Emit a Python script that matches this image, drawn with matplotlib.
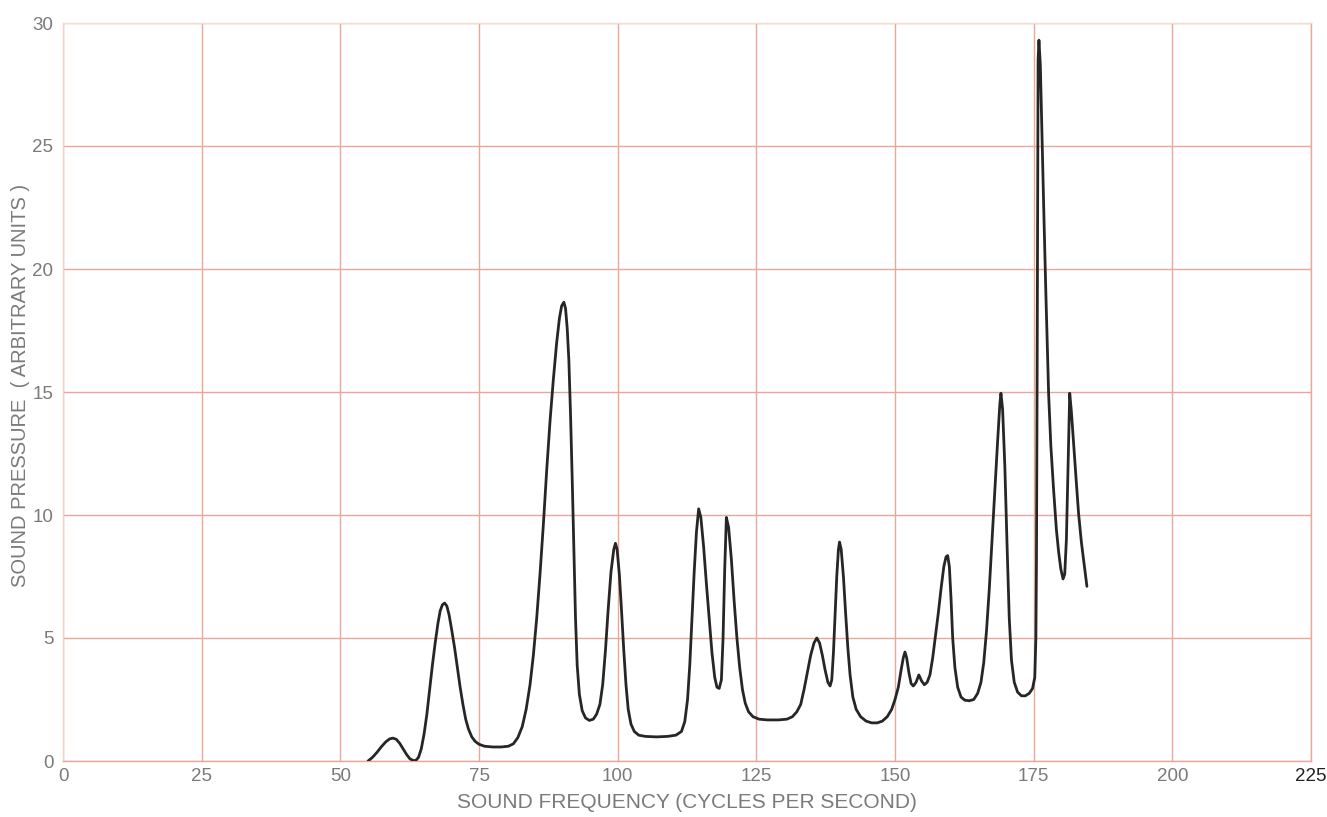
import matplotlib
matplotlib.use("Agg")
import matplotlib.pyplot as plt

# Measured sound-pressure spectrum (arbitrary units) against frequency (Hz)
freq = [
    55.0, 55.8, 56.6, 57.4, 58.2, 58.9, 59.5, 60.1, 60.7, 61.3, 61.9, 62.5,
    63.1, 63.6, 64.1, 64.6, 65.1, 65.6, 66.1, 66.6, 67.1, 67.6, 68.0, 68.4,
    68.8, 69.2, 69.6, 70.1, 70.6, 71.1, 71.6, 72.1, 72.6, 73.1, 73.7, 74.3,
    75.0, 76.0, 77.5, 79.0, 80.3, 81.2, 82.0, 82.8, 83.5, 84.2, 84.8, 85.4,
    86.0, 86.6, 87.2, 87.8, 88.4, 89.0, 89.5, 89.9, 90.3, 90.6, 90.9, 91.2,
    91.5, 91.8, 92.1, 92.4, 92.7, 93.1, 93.6, 94.2, 94.9, 95.6, 96.2, 96.8,
    97.3, 97.8, 98.3, 98.8, 99.3, 99.6, 99.9, 100.3, 100.7, 101.1, 101.5,
    101.9, 102.4, 103.0, 103.8, 105.0, 107.0, 109.0, 110.5, 111.5, 112.1,
    112.6, 113.0, 113.4, 113.8, 114.2, 114.6, 115.0, 115.5, 116.0, 116.5,
    117.0, 117.5, 117.9, 118.3, 118.7, 119.0, 119.3, 119.6, 120.0, 120.5,
    121.0, 121.5, 122.0, 122.5, 123.0, 123.6, 124.4, 125.5, 127.0, 129.0,
    130.5, 131.5, 132.3, 133.0, 133.6, 134.2, 134.8, 135.4, 135.9, 136.4,
    136.9, 137.4, 137.9, 138.3, 138.6, 138.9, 139.2, 139.5, 139.8, 140.0,
    140.3, 140.7, 141.1, 141.5, 141.9, 142.4, 143.0, 143.8, 144.8, 145.8,
    146.8, 147.7, 148.6, 149.4, 150.0, 150.6, 151.1, 151.5, 151.8, 152.1,
    152.5, 152.9, 153.3, 153.8, 154.3, 154.8, 155.3, 155.8, 156.3, 156.8,
    157.3, 157.8, 158.3, 158.8, 159.2, 159.5, 159.8, 160.1, 160.4, 160.8,
    161.3, 161.9, 162.6, 163.4, 164.2, 164.9, 165.5, 166.0, 166.5, 167.0,
    167.5, 168.0, 168.5, 168.9, 169.1, 169.4, 169.8, 170.2, 170.6, 171.0,
    171.5, 172.1, 172.8, 173.5, 174.2, 174.8, 175.2, 175.4, 175.5, 175.6,
    175.7, 175.8, 175.95, 176.2, 176.8, 177.2, 177.7, 178.1, 178.6, 179.1,
    179.5, 179.9, 180.3, 180.6, 180.9, 181.2, 181.5, 181.8, 182.2, 182.7,
    183.1, 183.6, 184.1, 184.6,
]
pressure = [
    0.0, 0.15, 0.35, 0.58, 0.78, 0.9, 0.93, 0.88, 0.72, 0.5, 0.28, 0.1,
    0.02, 0.02, 0.15, 0.5, 1.1, 1.9, 2.9, 3.9, 4.8, 5.6, 6.1, 6.35,
    6.42, 6.3, 5.95, 5.3, 4.6, 3.8, 3.0, 2.3, 1.7, 1.3, 0.98, 0.8,
    0.68, 0.6, 0.57, 0.57, 0.6, 0.7, 0.95, 1.4, 2.1, 3.1, 4.3, 5.8,
    7.6, 9.6, 11.8, 13.8, 15.5, 17.0, 18.0, 18.5, 18.65, 18.4, 17.6, 16.3,
    14.1, 11.5, 8.6, 5.8, 3.9, 2.7, 2.05, 1.75, 1.65, 1.7, 1.9, 2.3,
    3.1, 4.5, 6.2, 7.7, 8.6, 8.85, 8.6, 7.6, 6.1, 4.5, 3.1,
    2.1, 1.5, 1.2, 1.05, 1.0, 0.98, 1.0, 1.05, 1.2, 1.6,
    2.5, 3.9, 5.8, 7.7, 9.3, 10.25, 9.9, 8.7, 7.2, 5.8,
    4.4, 3.4, 3.0, 2.95, 3.3, 5.0, 7.8, 9.9, 9.5, 8.2,
    6.5, 5.0, 3.8, 2.9, 2.35, 2.0, 1.8, 1.7, 1.67, 1.67,
    1.7, 1.8, 2.0, 2.3, 2.9, 3.6, 4.3, 4.8, 5.0, 4.8,
    4.3, 3.7, 3.2, 3.05, 3.3, 4.4, 6.0, 7.5, 8.6, 8.9,
    8.6, 7.5, 6.0, 4.6, 3.5, 2.6, 2.1, 1.8, 1.62, 1.55,
    1.55, 1.62, 1.8, 2.1, 2.5, 3.0, 3.7, 4.2, 4.43, 4.2,
    3.6, 3.15, 3.05, 3.2, 3.5, 3.25, 3.1, 3.2, 3.5, 4.2,
    5.1, 6.0, 7.0, 7.9, 8.3, 8.35, 7.9, 6.6, 5.0, 3.8,
    3.0, 2.6, 2.47, 2.45, 2.5, 2.75, 3.2, 4.0, 5.3, 7.0,
    9.0, 11.0, 13.0, 14.5, 14.95, 14.3, 12.0, 8.8, 5.8, 4.1,
    3.2, 2.8, 2.65, 2.65, 2.75, 2.95, 3.4, 5.0, 8.0, 14.0,
    22.0, 28.5, 29.3, 28.3, 22.6, 19.0, 14.9, 12.8, 11.0, 9.4,
    8.5, 7.8, 7.4, 7.6, 9.0, 12.0, 14.95, 14.2, 12.9, 11.3,
    10.05, 8.9, 8.0, 7.1,
]

x_ticks = [0, 25, 50, 75, 100, 125, 150, 175, 200, 225]
y_ticks = [0, 5, 10, 15, 20, 25, 30]

grid_color = "#eba69c"
text_color = "#7a7a7a"
plt.rcParams["font.family"] = ["Liberation Sans", "DejaVu Sans"]

fig = plt.figure(figsize=(13.27, 8.17), dpi=100)
ax = fig.add_axes([63 / 1327, 1 - 761 / 817, (1311 - 63) / 1327, (761 - 23) / 817])

ax.set_xlim(0, 225)
ax.set_ylim(0, 30)
ax.set_xticks(x_ticks)
ax.set_yticks(y_ticks)
ax.set_xticklabels([str(t) for t in x_ticks])
ax.set_yticklabels([str(t) for t in y_ticks])
ax.grid(True, color=grid_color, linewidth=1.0)
ax.set_axisbelow(True)
ax.tick_params(length=0, labelsize=13.5, labelcolor=text_color)
ax.tick_params(axis="x", pad=5)
ax.tick_params(axis="y", pad=7)
ax.get_xticklabels()[-1].set_color("#222222")

for side, sp in ax.spines.items():
    sp.set_color(grid_color)
    sp.set_linewidth(1.0)
ax.spines["top"].set_color("#f6dcd6")
ax.spines["left"].set_color("#f3cfc8")

ax.plot(freq, pressure, color="#262626", linewidth=2.0,
        solid_joinstyle="round", solid_capstyle="round", zorder=3)

fig.text(687 / 1327, 1 - 802 / 817, "SOUND FREQUENCY (CYCLES PER SECOND)",
         ha="center", va="center", fontsize=15, color=text_color)
fig.text(21 / 1327, 1 - 385 / 817, "SOUND PRESSURE  ( ARBITRARY UNITS )",
         ha="center", va="center", rotation=90, fontsize=14.5, color=text_color)

fig.savefig("out.png", dpi=100, facecolor="white")
